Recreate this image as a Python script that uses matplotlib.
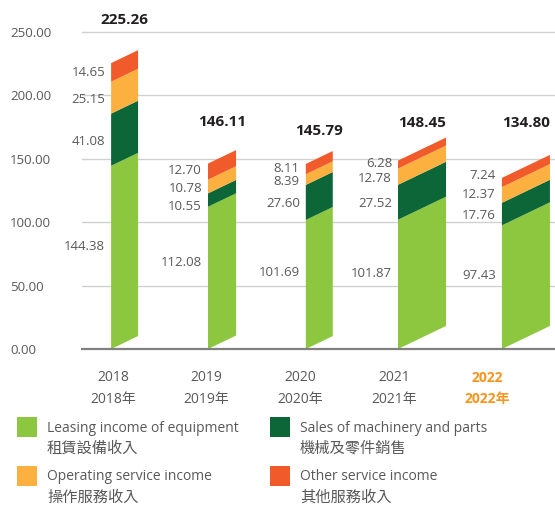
import numpy as np
import matplotlib
matplotlib.use("Agg")
import matplotlib.pyplot as plt
from matplotlib.patches import Polygon, Rectangle

plt.rcParams['font.family'] = ['Open Sans', 'Noto Sans CJK TC', 'DejaVu Sans']

years = ['2018', '2019', '2020', '2021', '2022']
years_cn = ['2018年', '2019年', '2020年', '2021年', '2022年']
leasing = [144.38, 112.08, 101.69, 101.87, 97.43]
sales = [41.08, 10.55, 27.60, 27.52, 17.76]
operating = [25.15, 10.78, 8.39, 12.78, 12.37]
other = [14.65, 12.70, 8.11, 6.28, 7.24]
series_en = ['Leasing income of equipment', 'Sales of machinery and parts',
             'Operating service income', 'Other service income']
series_cn = ['租賃設備收入', '機械及零件銷售', '操作服務收入', '其他服務收入']

colors = ['#8dc63f', '#0d6638', '#fbb040', '#f15a2b']
grey = '#595959'

# layout (category units / value units)
bar_shift = [-0.02, 0.015, 0.06, 0.045, 0.155]
bar_width = [0.288, 0.30, 0.288, 0.513, 0.513]
slope = 35.4  # rise of the top edge, value units per category unit
label_y = [[80.6, 163.4, 196.8, 217.7],
           [68.0, 112.1, 126.1, 140.5],
           [60.1, 114.8, 131.6, 142.0],
           [59.6, 114.3, 134.0, 146.3],
           [58.3, 104.8, 121.4, 137.1]]
total_y = [259.3, 179.1, 172.0, 178.3, 178.1]

W, H = 555, 505
fig = plt.figure(figsize=(W / 100, H / 100), dpi=100)
ax = fig.add_axes([82 / W, 1 - 349 / H, 1 - 82 / W, 349 / H])
ax.set_xlim(-0.331, 4.722)
ax.set_ylim(0, 275)

for s in ax.spines.values():
    s.set_visible(False)
ax.set_xticks([])
ax.set_yticks([0, 50, 100, 150, 200, 250])
ax.set_yticklabels([f'{v:.2f}' for v in [0, 50, 100, 150, 200, 250]])
ax.tick_params(axis='y', length=0, pad=51.8, labelsize=9.5, labelcolor=grey)
for lab in ax.get_yticklabels():
    lab.set_horizontalalignment('left')
for v in [50, 100, 150, 200, 250]:
    ax.axhline(v, color='#d0d0d0', lw=1, zorder=0)
ax.axhline(0, color='#808080', lw=1.6, zorder=3, clip_on=False)

data = np.array([leasing, sales, operating, other])
for i in range(len(years)):
    xl = i + bar_shift[i]
    xr = xl + bar_width[i]
    rise = slope * bar_width[i]
    bottom = 0
    for k in range(4):
        top = bottom + data[k, i]
        ax.add_patch(Polygon([(xl, bottom), (xr, bottom + rise), (xr, top + rise), (xl, top)],
                             closed=True, facecolor=colors[k], edgecolor='none', zorder=2))
        ax.text(xl - 0.064, label_y[i][k], f'{data[k, i]:.2f}', ha='right', va='center',
                fontsize=9.5, color=grey)
        bottom = top
    ax.text((xl + xr) / 2, total_y[i], f'{bottom:.2f}', ha='center', va='center',
            fontsize=11, fontweight='bold', color='#231f20')
    last = i == len(years) - 1
    tc = '#f7941d' if last else grey
    fw = 'bold' if last else 'normal'
    ax.text(i, -22.6, years[i], ha='center', va='center', fontsize=10, color=tc,
            fontweight=fw, clip_on=False)
    ax.text(i, -39.4, years_cn[i], ha='center', va='center', fontsize=10, color=tc,
            fontweight=fw, clip_on=False)

# legend, built by hand
pos = [(17, 417), (270, 417), (17, 466), (270, 466)]
for k, (px, py) in enumerate(pos):
    fig.add_artist(Rectangle((px / W, 1 - (py + 20) / H), 20 / W, 20 / H,
                             transform=fig.transFigure, facecolor=colors[k], edgecolor='none'))
    fig.text((px + 30) / W, 1 - (py + 11) / H, series_en[k], ha='left', va='center',
             fontsize=10, color=grey)
    fig.text((px + 30) / W, 1 - (py + 32) / H, series_cn[k], ha='left', va='center',
             fontsize=11, color=grey)

fig.savefig('out.png', dpi=100)
